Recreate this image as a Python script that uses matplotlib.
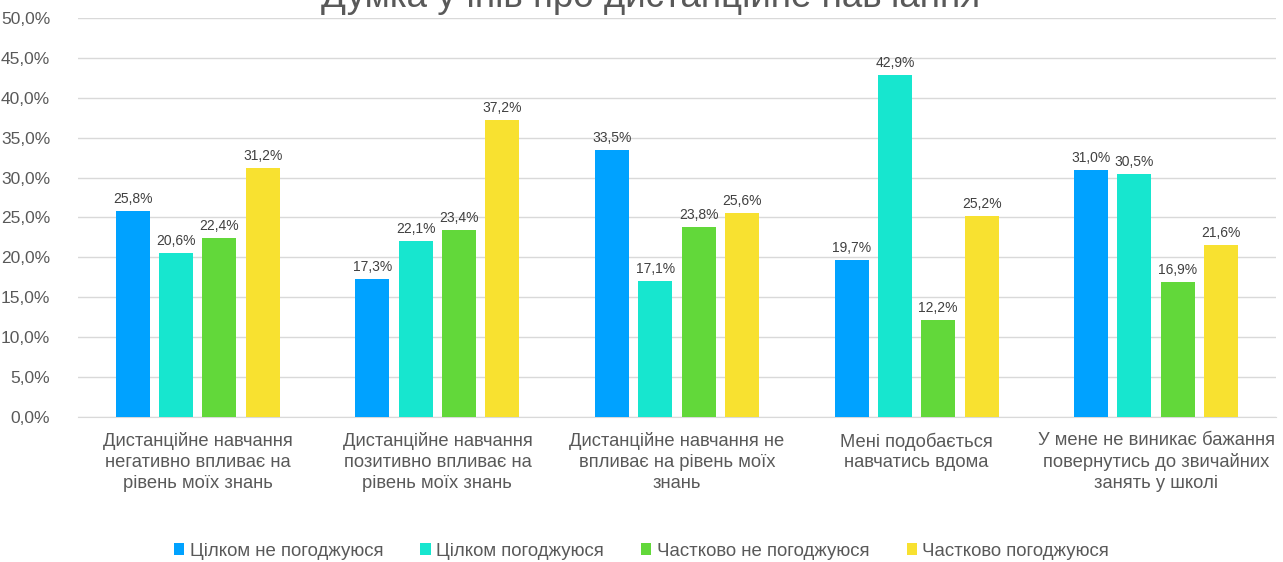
import matplotlib.pyplot as plt
import numpy as np

plt.rcParams['font.family'] = ['Liberation Sans', 'DejaVu Sans']

categories = [
    "Дистанційне навчання\nнегативно впливає на\nрівень моїх знань",
    "Дистанційне навчання\nпозитивно впливає на\nрівень моїх знань",
    "Дистанційне навчання не\nвпливає на рівень моїх\nзнань",
    "Мені подобається\nнавчатись вдома",
    "У мене не виникає бажання\nповернутись до звичайних\nзанять у школі",
]
series_names = ["Цілком не погоджуюся", "Цілком погоджуюся",
                "Частково не погоджуюся", "Частково погоджуюся"]
disagree_full = [25.8, 17.3, 33.5, 19.7, 31.0]
agree_full = [20.6, 22.1, 17.1, 42.9, 30.5]
disagree_part = [22.4, 23.4, 23.8, 12.2, 16.9]
agree_part = [31.2, 37.2, 25.6, 25.2, 21.6]
colors = ["#00A2FF", "#17E6CF", "#62D83A", "#F8E130"]

series = [disagree_full, agree_full, disagree_part, agree_part]

fig = plt.figure(figsize=(12.83, 5.62), dpi=100)
ax = fig.add_axes([0.0608, 0.258, 0.9337, 0.71])

x = np.arange(len(categories))
width = 0.142
step = 0.181
for i, vals in enumerate(series):
    pos = x + (i - 1.5) * step
    bars = ax.bar(pos, vals, width, color=colors[i], label=series_names[i], zorder=3)
    for b, v in zip(bars, vals):
        ax.text(b.get_x() + b.get_width() / 2, v + 0.6, f"{v:.1f}%".replace(".", ","),
                ha='center', va='bottom', fontsize=10, color='#404040')

ax.set_xlim(-0.5, len(categories) - 0.5)
ax.set_ylim(0, 50)
yt = np.arange(0, 51, 5)
ax.set_yticks(yt)
ax.set_yticklabels([f"{v:.1f}%".replace(".", ",") for v in yt], fontsize=12.5, color='#595959')
ax.set_xticks(x)
ax.set_xticklabels(categories, fontsize=13.2, color='#595959', linespacing=1.3)
ax.tick_params(axis='x', length=0, pad=11)
ax.tick_params(axis='y', length=0, pad=20)
ax.grid(axis='y', color='#D9D9D9', linewidth=1, zorder=0)
for s in ['top', 'right', 'left']:
    ax.spines[s].set_visible(False)
ax.spines['bottom'].set_color('#D9D9D9')

fig.text(0.507, 1.005, "Думка учнів про дистанційне навчання", ha='center', va='center',
         fontsize=26.5, color='#595959')

fig.legend(loc='center', bbox_to_anchor=(0.5, 1 - 551 / 562), ncol=4, frameon=False,
           fontsize=13.4, handlelength=0.55, handleheight=0.55, handletextpad=0.3,
           columnspacing=2.0, labelcolor='#595959')

fig.savefig("out.png", dpi=100)
